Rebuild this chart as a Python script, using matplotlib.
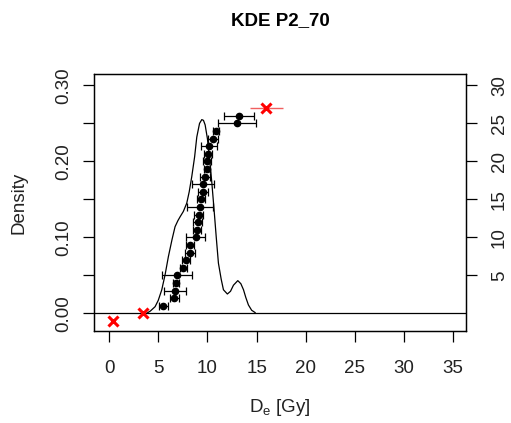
import numpy as np
import matplotlib
matplotlib.use("Agg")
import matplotlib.pyplot as plt

plt.rcParams['font.family'] = ['Liberation Sans', 'DejaVu Sans']
plt.rcParams['mathtext.default'] = 'regular'

# equivalent doses (sorted) with their errors
de_values = [5.5, 6.65, 6.7, 6.85, 6.9, 7.56, 7.83, 8.24, 8.25, 8.8, 8.95, 9.0, 9.1,
             9.26, 9.39, 9.53, 9.55, 9.77, 9.94, 10.0, 10.05, 10.14, 10.6, 10.9,
             13.0, 13.2]
de_errors = [0.45, 0.43, 1.1, 0.3, 1.5, 0.35, 0.4, 0.5, 0.4, 0.95, 0.4, 0.45, 0.5,
             1.3, 0.4, 0.5, 1.13, 0.5, 0.3, 0.4, 0.4, 0.8, 0.5, 0.3,
             1.9, 1.55]

# values flagged in red
outlier_de = [0.37, 3.4, 16.0]
outlier_err = [0.0, 0.0, 1.7]
outlier_rank = [-1, 0, 27]

# KDE curve
kde_x = [3.83, 4.2, 4.68, 5.0, 5.36, 5.7, 6.03, 6.4, 6.71, 7.0, 7.22, 7.55, 7.9, 8.15,
         8.41, 8.7, 8.92, 9.2, 9.43, 9.6, 9.77, 10.0, 10.2, 10.45, 10.68, 10.9,
         11.12, 11.4, 11.63, 12.03, 12.35, 12.65, 13.09, 13.4, 13.67, 13.9, 14.17,
         14.5, 14.85]
kde_y = [0.0, 0.003, 0.0087, 0.017, 0.031, 0.051, 0.0745, 0.097, 0.114, 0.122, 0.127,
         0.134, 0.145, 0.16, 0.18, 0.206, 0.232, 0.25, 0.255, 0.254, 0.248, 0.23,
         0.206, 0.172, 0.136, 0.1, 0.066, 0.045, 0.031, 0.0254, 0.029, 0.037, 0.043,
         0.039, 0.031, 0.021, 0.011, 0.004, 0.001]

xticks = [0, 5, 10, 15, 20, 25, 30, 35]
rank_ticks = [5, 10, 15, 20, 25, 30]

fig = plt.figure(figsize=(5.11, 4.23), dpi=100)
ax = fig.add_axes([0.184, 0.2175, 0.728, 0.6075])

ax.plot(kde_x, kde_y, color='black', lw=0.9)
ax.axhline(0, color='black', lw=0.9)

ax.set_xlim(-1.53, 36.3)
ax.set_ylim(-0.0233, 0.315)
ax.set_xticks(xticks)
ax.set_yticks([0.0, 0.05, 0.10, 0.15, 0.20, 0.25, 0.30])
ax.set_yticklabels(['0.00', '', '0.10', '', '0.20', '', '0.30'],
                   rotation=90, va='center')
ax.tick_params(direction='out', length=8, width=0.9, labelsize=13.5, labelcolor='#222222')
ax.tick_params(axis='x', pad=13)
ax.tick_params(axis='y', pad=7.5)
for s in ax.spines.values():
    s.set_linewidth(0.9)

ax.set_ylabel('Density', fontsize=13.5, labelpad=20, color='#222222')
ax.set_xlabel(r'D$_e$ [Gy]', fontsize=13.5, labelpad=14, color='#222222')
ax.set_title('KDE P2_70', fontsize=13.5, fontweight='bold', pad=35)

# right axis with the rank of each value
ax2 = ax.twinx()
ax2.set_ylim(-2.33, 31.5)
ax2.set_yticks(rank_ticks)
ax2.set_yticklabels([str(t) for t in rank_ticks], rotation=90, va='center')
ax2.tick_params(direction='out', length=8, width=0.9, labelsize=13.5, pad=10,
                labelcolor='#222222')
for s in ax2.spines.values():
    s.set_linewidth(0.9)

ranks = np.arange(1, len(de_values) + 1)
ax2.errorbar(de_values, ranks, xerr=de_errors, fmt='o', color='black',
             ms=4.5, elinewidth=0.9, capsize=2.8, capthick=0.9)
ax2.errorbar(outlier_de[2:], outlier_rank[2:], xerr=outlier_err[2:], fmt='none',
             ecolor='#f06060', elinewidth=1.0)
ax2.plot(outlier_de, outlier_rank, 'x', color='red', ms=7, mew=2.2)

fig.savefig('out.png', dpi=100)
